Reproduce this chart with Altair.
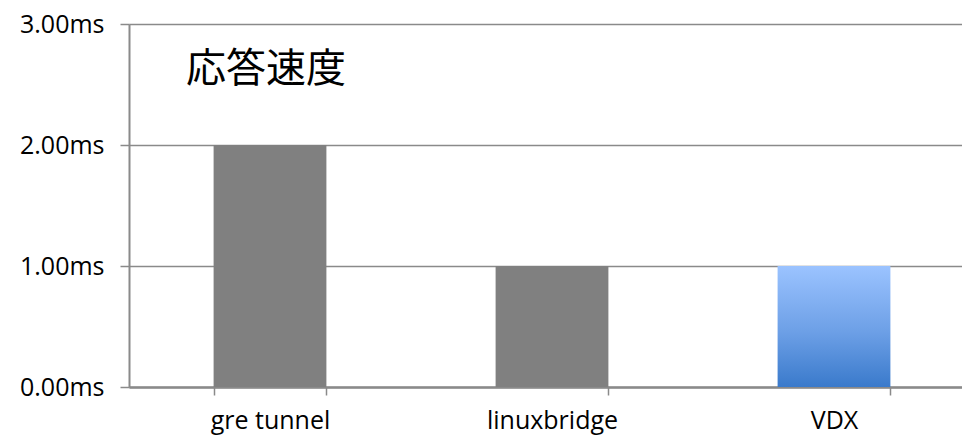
import altair as alt
import pandas as pd

# Response time per network setup (ms)
categories = ["gre tunnel", "linuxbridge", "VDX"]
response_ms = [2.0, 1.0, 1.0]
y_ticks = [0, 1, 2, 3]
chart_title = "応答速度"

df = pd.DataFrame({"category": categories, "ms": response_ms})

AXIS_GRAY = "#8a8a8a"
LABEL_FONT = "Open Sans"

x_enc = alt.X(
    "category:N",
    sort=categories,
    title=None,
    scale=alt.Scale(domain=categories, range=[0, 846], paddingInner=0.6, paddingOuter=0.3),
    axis=alt.Axis(
        labelAngle=0,
        labelFontSize=25,
        labelFont=LABEL_FONT,
        labelColor="#000000",
        labelPadding=13,
        tickBand="extent",
        tickSize=8,
        tickColor=AXIS_GRAY,
        tickWidth=1.5,
        domainColor=AXIS_GRAY,
        domainWidth=2.5,
        grid=False,
    ),
)

y_enc = alt.Y(
    "ms:Q",
    title=None,
    scale=alt.Scale(domain=[0, 3], nice=False),
    axis=alt.Axis(
        values=y_ticks,
        labelExpr="format(datum.value, '.2f') + 'ms'",
        labelFontSize=25,
        labelFont=LABEL_FONT,
        labelColor="#000000",
        labelPadding=16,
        tickSize=9,
        tickColor=AXIS_GRAY,
        tickWidth=1.5,
        domainColor=AXIS_GRAY,
        domainWidth=2,
        grid=True,
        gridColor=AXIS_GRAY,
        gridWidth=1.5,
    ),
)

base = alt.Chart(df).encode(x=x_enc, y=y_enc)

gray_bars = base.transform_filter(
    alt.datum.category != "VDX"
).mark_bar(color="#808080")

vdx_bar = base.transform_filter(
    alt.datum.category == "VDX"
).mark_bar(
    color=alt.Gradient(
        gradient="linear",
        stops=[
            alt.GradientStop(color="#9bc3ff", offset=0),
            alt.GradientStop(color="#6c9fe6", offset=0.55),
            alt.GradientStop(color="#3a7acb", offset=1),
        ],
        x1=0, x2=0, y1=0, y2=1,
    )
)

# Chart heading drawn inside the plot area, upper left
heading = alt.Chart(pd.DataFrame({"label": [chart_title]})).mark_text(
    align="left",
    baseline="middle",
    font="Noto Sans CJK JP",
    fontSize=40,
    color="#000000",
).encode(
    text="label:N",
    x=alt.value(57),
    y=alt.value(46),
)

chart = (
    alt.layer(gray_bars, vdx_bar, heading)
    .properties(
        width=833,
        height=363,
        autosize=alt.AutoSizeParams(type="none"),
        padding={"left": 129, "top": 24, "right": 0, "bottom": 55},
    )
    .configure_view(stroke=None)
    .configure(background="white")
)

chart.save("out.html", embed_options={"renderer": "svg", "actions": False})
